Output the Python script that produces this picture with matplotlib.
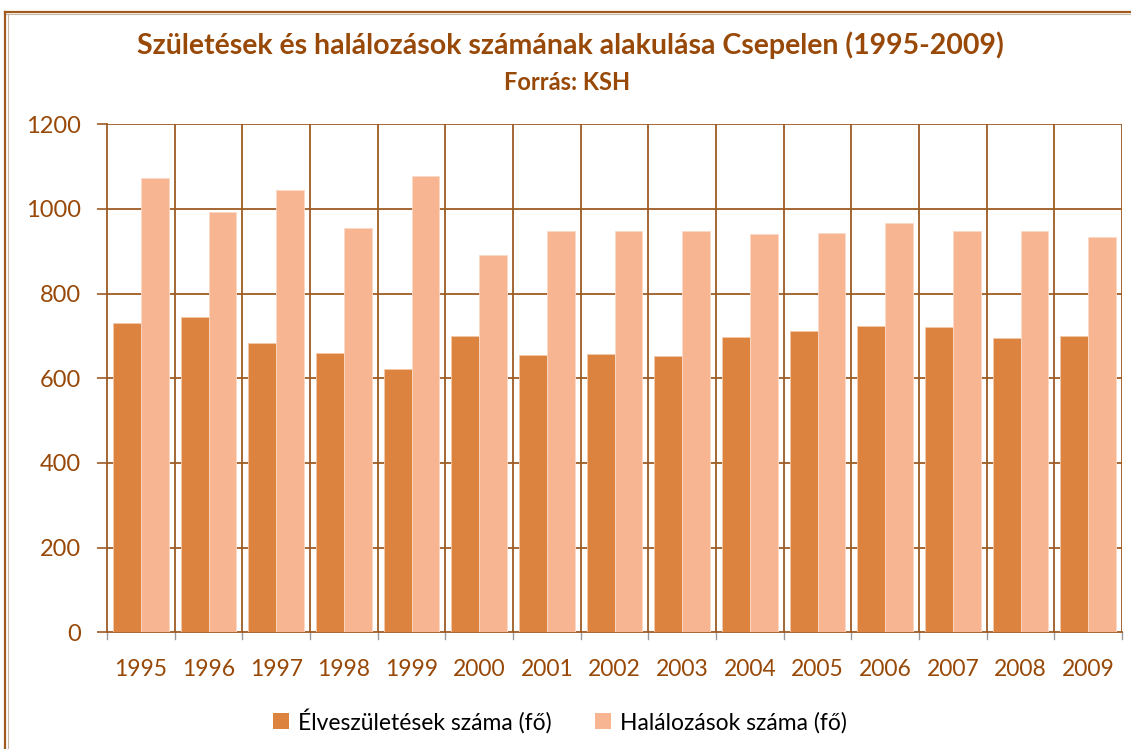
import matplotlib
matplotlib.use("Agg")
import matplotlib.pyplot as plt
from matplotlib.lines import Line2D
from matplotlib.patches import Patch
import numpy as np

years = ["1995", "1996", "1997", "1998", "1999", "2000", "2001", "2002",
         "2003", "2004", "2005", "2006", "2007", "2008", "2009"]
births = [730, 744, 684, 660, 622, 701, 654, 657, 652, 698, 711, 723, 720, 695, 701]
deaths = [1074, 992, 1044, 955, 1077, 892, 949, 949, 949, 941, 944, 968, 947, 949, 933]
y_ticks = [0, 200, 400, 600, 800, 1000, 1200]

title = "Születések és halálozások számának alakulása Csepelen (1995-2009)"
subtitle = "Forrás: KSH"
label_births = "Élveszületések száma (fő)"
label_deaths = "Halálozások száma (fő)"

plt.rcParams['font.family'] = ['Lato', 'DejaVu Sans']

BROWN = "#984807"
GRID = "#9E5B24"
DARK = "#DC843F"
LIGHT = "#F8B592"

W, H = 1131, 749
fig = plt.figure(figsize=(W / 100, H / 100), dpi=100)
ax = fig.add_axes([107 / W, 1 - 632.3 / H, (1122 - 107) / W, (632.3 - 124.3) / H])

x = np.arange(len(years))
bw = 0.41
ax.bar(x - bw / 2, births, width=bw, color=DARK, edgecolor="#F2C9A8", linewidth=0.6, zorder=3)
ax.bar(x + bw / 2, deaths, width=bw, color=LIGHT, edgecolor="#FBD9C6", linewidth=0.6, zorder=3)

ax.set_xlim(-0.5, len(years) - 0.5)
ax.set_ylim(0, 1200)
ax.set_yticks(y_ticks)
ax.set_yticklabels([str(v) for v in y_ticks])
ax.set_xticks(x)
ax.set_xticklabels(years)

# grid lines
for v in y_ticks[1:]:
    ax.axhline(v, color=GRID, linewidth=1.3, zorder=1)
for b in np.arange(0.5, len(years), 1.0):
    ax.axvline(b, color=GRID, linewidth=1.3, zorder=1)

for s in ["top", "right"]:
    ax.spines[s].set_visible(False)
ax.spines["left"].set_color(GRID)
ax.spines["left"].set_linewidth(1.3)
ax.spines["bottom"].set_color(GRID)
ax.spines["bottom"].set_linewidth(1.3)

ax.tick_params(axis="y", colors=GRID, length=7, width=1.2, pad=12, labelsize=17, labelcolor=BROWN)
ax.tick_params(axis="x", length=0, pad=19, labelsize=16.5, labelcolor=BROWN)

# category boundary tick marks below axis
trans = ax.get_xaxis_transform()
for b in np.arange(-0.5, len(years), 1.0):
    ax.add_line(Line2D([b, b], [0, -0.014], transform=trans, color="#999999",
                       linewidth=1.0, clip_on=False))

# titles
fig.text(0.5 * (137 + 1003) / W, 1 - 45 / H, title, ha="center", va="center",
         fontsize=20.5, fontweight="bold", color=BROWN)
fig.text(567 / W, 1 - 83 / H, subtitle, ha="center", va="center",
         fontsize=17, fontweight="bold", color=BROWN)

# legend
handles = [Patch(facecolor=DARK, edgecolor="none"), Patch(facecolor=LIGHT, edgecolor="none")]
fig.legend(handles, [label_births, label_deaths], loc="center", bbox_to_anchor=(560 / W, 1 - 721 / H),
           ncol=2, frameon=False, fontsize=16.5, handlelength=0.7, handleheight=0.7,
           handletextpad=0.4, columnspacing=1.9, labelcolor="black")

# outer border (top & left)
fig.add_artist(Line2D([5 / W, 1], [1 - 12 / H, 1 - 12 / H], transform=fig.transFigure,
                      color="#A05A1C", linewidth=1.6))
fig.add_artist(Line2D([5 / W, 1], [1 - 14 / H, 1 - 14 / H], transform=fig.transFigure,
                      color="#C8B8A8", linewidth=0.8))
fig.add_artist(Line2D([5 / W, 5 / W], [0, 1 - 12 / H], transform=fig.transFigure,
                      color="#A05A1C", linewidth=1.6))
fig.add_artist(Line2D([7.5 / W, 7.5 / W], [0, 1 - 14 / H], transform=fig.transFigure,
                      color="#C8B8A8", linewidth=0.8))

fig.savefig("out.png", dpi=100)
